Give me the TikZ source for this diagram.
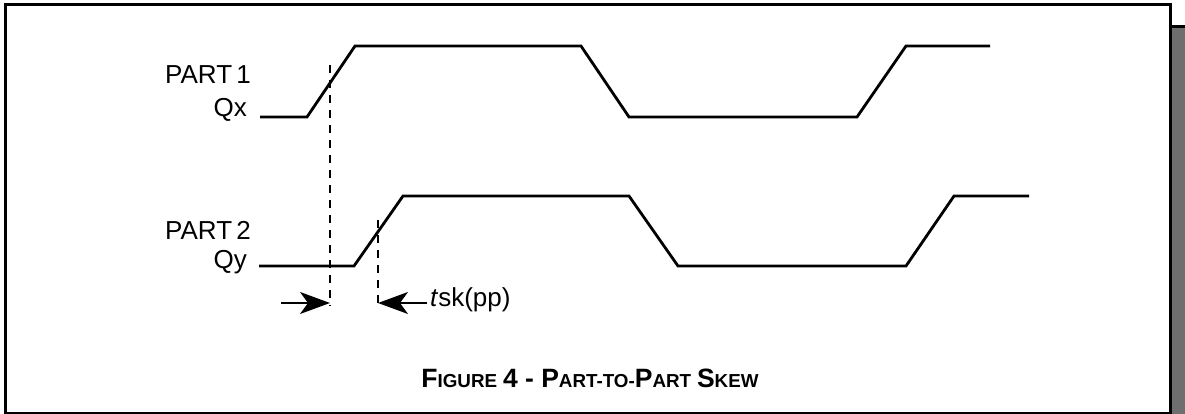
\documentclass[tikz,border=0pt]{standalone}
\usepackage{fontspec}
\setmainfont{Liberation Sans}
\usetikzlibrary{positioning,arrows.meta}

\definecolor{shadowgray}{HTML}{6E6E6E}
\newcommand{\capsm}[2]{{\fontsize{26.5}{31}\selectfont #1}{\fontsize{18.8}{23}\selectfont #2}}

\begin{document}
\begin{tikzpicture}[x=1pt, y=-1pt,
        signal/.style={draw, line width=2.8pt, line join=miter},
        marker/.style={draw, dash pattern=on 8pt off 7pt, line width=1.3pt},
        skew/.style={draw, line width=1.3pt, -{Stealth[length=30pt, width=22pt, inset=8pt]}},
        tag/.style={font=\fontsize{26}{31}\selectfont, inner sep=0pt}]

    \useasboundingbox (0,0) rectangle (1185,414);

    % frame and shadow
    \fill [shadowgray] (1172,28) rectangle (1185,414);
    \draw [line width=3pt] (1171,27) -- (1185,27);
    \draw [line width=3pt] (5,5) rectangle (1170,413);

    % labels
    \node [tag, anchor=west] (part1) at (165,75) {PART\,1};
    \node [tag, anchor=east] (qx) at (247,110) {Qx};
    \node [tag, anchor=west] (part2) at (165,230) {PART\,2};
    \node [tag, anchor=east] (qy) at (247,262) {Qy};

    % waveforms
    \path [signal] (260,117) -- (307,117) -- (355,46) -- (581,46) -- (629,117)
        -- (857,117) -- (906,46) -- (990,46);
    \path [signal] (259,266) -- (354,266) -- (403,196) -- (629,196) -- (678,266)
        -- (906,266) -- (954,196) -- (1029,196);

    % skew markers
    \coordinate (m1top) at (330,65);
    \coordinate (m1bot) at (330,306);
    \coordinate (m2top) at (378,220);
    \coordinate (m2bot) at (378,306);
    \path [marker] (m1top) -- (m1bot);
    \path [marker] (m2top) -- (m2bot);

    \coordinate (a1) at (281,303);
    \node [tag, anchor=west] (tsk) at (430,300) {\textit{t}sk(pp)};
    \path [skew] (a1) -- (a1 -| m1bot);
    \path [skew] (tsk.west) ++(-3,3) coordinate (a2) -- (a2 -| m2bot);

    % caption
    \node [font=\bfseries\fontsize{21}{26}\selectfont, inner sep=0pt] (caption) at (590,378)
        {\capsm{F}{IGURE} \capsm{4 - P}{ART-TO-}\capsm{P}{ART} \capsm{S}{KEW}};
\end{tikzpicture}
\end{document}
